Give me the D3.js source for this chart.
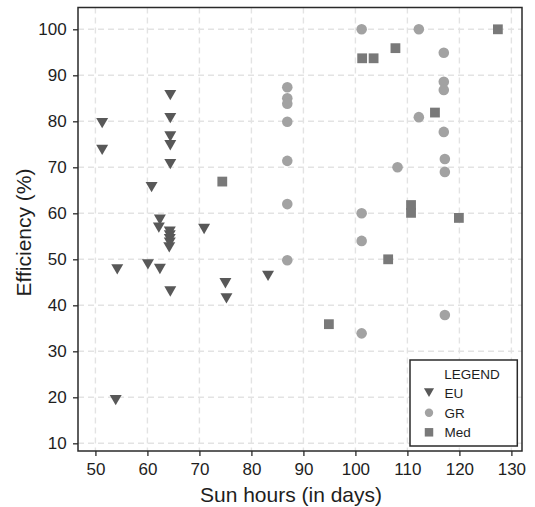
<!DOCTYPE html>
<html>
<head>
<meta charset="utf-8">
<script src="https://cdn.jsdelivr.net/npm/d3@7"></script>
<style>
  html, body { margin: 0; padding: 0; background: #fff; }
  svg { display: block; font-family: "Liberation Sans", Arial, Helvetica, sans-serif; }
</style>
</head>
<body>
<div id="chart"></div>
<script>
// ---- data ----
const seriesNames = ["EU", "GR", "Med"];
const euX = [51.3, 51.3, 64.4, 64.4, 64.4, 64.4, 64.4, 60.8, 62.4, 62.2, 64.3, 64.3, 64.3, 64.3, 64.2, 70.9, 54.2, 60.1, 62.4, 64.4, 75.0, 75.2, 53.9, 83.2];
const euY = [79.6, 73.8, 85.7, 80.7, 76.7, 74.8, 70.7, 65.7, 58.6, 56.9, 56.0, 55.2, 54.4, 53.6, 52.6, 56.6, 47.8, 48.9, 47.9, 43.0, 44.8, 41.5, 19.4, 46.4];
const grX = [86.9, 86.9, 86.9, 86.9, 86.9, 86.9, 86.9, 101.2, 101.2, 101.2, 101.2, 112.2, 117.0, 117.0, 117.0, 112.2, 117.0, 117.2, 117.2, 108.1, 117.2];
const grY = [87.4, 85.0, 83.8, 79.9, 71.4, 62.0, 49.8, 100, 60.0, 54.0, 33.9, 100, 94.9, 88.6, 86.8, 80.9, 77.7, 71.8, 69.0, 70.0, 37.9];
const medX = [74.4, 101.3, 103.5, 107.7, 127.4, 115.3, 110.7, 110.7, 119.9, 106.3, 94.9];
const medY = [66.9, 93.7, 93.7, 95.9, 100, 81.9, 61.8, 60.1, 59.0, 50.0, 35.9];
const xTicks = [50, 60, 70, 80, 90, 100, 110, 120, 130];
const yTicks = [10, 20, 30, 40, 50, 60, 70, 80, 90, 100];
const xTitle = "Sun hours (in days)";
const yTitle = "Efficiency (%)";
const legendTitle = "LEGEND";

// ---- layout ----
const W = 535, H = 507;
const plot = { left: 78, top: 7.5, right: 522, bottom: 451 };
const textColor = "#1e1e1e";
const frameColor = "#2a2a2a";
const gridColor = "#e3e3e3";
const colors = { EU: "#585858", GR: "#a2a2a2", Med: "#797979" };

const x = d3.scaleLinear().domain([46.65, 132.04]).range([plot.left, plot.right]);
const y = d3.scaleLinear().domain([8.33, 104.74]).range([plot.bottom, plot.top]);

// downward triangle centred on its bounding box
const triDown = {
  draw(ctx, size) {
    const s = Math.sqrt(size / (Math.sqrt(3) / 4)); // side
    const h = s * Math.sqrt(3) / 2;
    ctx.moveTo(-s / 2, -h / 2);
    ctx.lineTo(s / 2, -h / 2);
    ctx.lineTo(0, h / 2);
    ctx.closePath();
  }
};
const symbolTypes = { EU: triDown, GR: d3.symbolCircle, Med: d3.symbolSquare };
const symbolSizes = { EU: 62, GR: 88, Med: 96 };
const legendSizes = { EU: 44, GR: 55, Med: 72 };

const svg = d3.select("#chart").append("svg").attr("width", W).attr("height", H);

// gridlines
const grid = svg.append("g");
grid.selectAll("line.gx").data(xTicks).join("line")
  .attr("x1", d => x(d)).attr("x2", d => x(d))
  .attr("y1", plot.top).attr("y2", plot.bottom)
  .attr("stroke", gridColor).attr("stroke-width", 1.4).attr("stroke-dasharray", "6,4");
grid.selectAll("line.gy").data(yTicks).join("line")
  .attr("y1", d => y(d)).attr("y2", d => y(d))
  .attr("x1", plot.left).attr("x2", plot.right)
  .attr("stroke", gridColor).attr("stroke-width", 1.4).attr("stroke-dasharray", "6,4");

// axes
const xAxis = svg.append("g").attr("transform", `translate(0,${plot.bottom})`)
  .call(d3.axisBottom(x).tickValues(xTicks).tickSize(5).tickSizeOuter(0).tickPadding(7.3));
const yAxis = svg.append("g").attr("transform", `translate(${plot.left},0)`)
  .call(d3.axisLeft(y).tickValues(yTicks).tickSize(5).tickSizeOuter(0).tickPadding(6.3));
[xAxis, yAxis].forEach(a => {
  a.select(".domain").remove();
  a.selectAll(".tick line").attr("stroke", frameColor).attr("stroke-width", 1.3);
  a.selectAll(".tick text").attr("fill", textColor)
    .style("font-family", "'Liberation Sans', Arial, sans-serif").style("font-size", "17px");
});

// points
const series = [
  { name: "EU", xs: euX, ys: euY },
  { name: "GR", xs: grX, ys: grY },
  { name: "Med", xs: medX, ys: medY }
];
series.forEach(s => {
  const pts = s.xs.map((v, i) => ({ x: v, y: s.ys[i] }));
  svg.append("g").selectAll("path").data(pts).join("path")
    .attr("transform", d => `translate(${x(d.x)},${y(d.y)})`)
    .attr("d", d3.symbol().type(symbolTypes[s.name]).size(symbolSizes[s.name])())
    .attr("fill", colors[s.name]);
});

// frame
svg.append("rect")
  .attr("x", plot.left).attr("y", plot.top)
  .attr("width", plot.right - plot.left).attr("height", plot.bottom - plot.top)
  .attr("fill", "none").attr("stroke", frameColor).attr("stroke-width", 1.5);

// axis titles
svg.append("text").attr("x", 291).attr("y", 501.5)
  .attr("text-anchor", "middle").attr("fill", textColor)
  .style("font-size", "21px").text(xTitle);
svg.append("text").attr("transform", "translate(31,232.5) rotate(-90)")
  .attr("text-anchor", "middle").attr("fill", textColor)
  .style("font-size", "21px").text(yTitle);

// legend
const lg = svg.append("g");
lg.append("rect").attr("x", 410).attr("y", 360).attr("width", 107.3).attr("height", 86)
  .attr("fill", "#fff").attr("stroke", frameColor).attr("stroke-width", 1.5);
lg.append("text").attr("x", 444.3).attr("y", 378.8).attr("fill", textColor)
  .style("font-size", "13.5px").text(legendTitle);
const legendY = [392.7, 412.7, 432.3];
seriesNames.forEach((n, i) => {
  lg.append("path")
    .attr("transform", `translate(429,${legendY[i]})`)
    .attr("d", d3.symbol().type(symbolTypes[n]).size(legendSizes[n])())
    .attr("fill", colors[n]);
  lg.append("text").attr("x", 444.5).attr("y", legendY[i] + 4.8).attr("fill", textColor)
    .style("font-size", "13.5px").text(n);
});
</script>
</body>
</html>
